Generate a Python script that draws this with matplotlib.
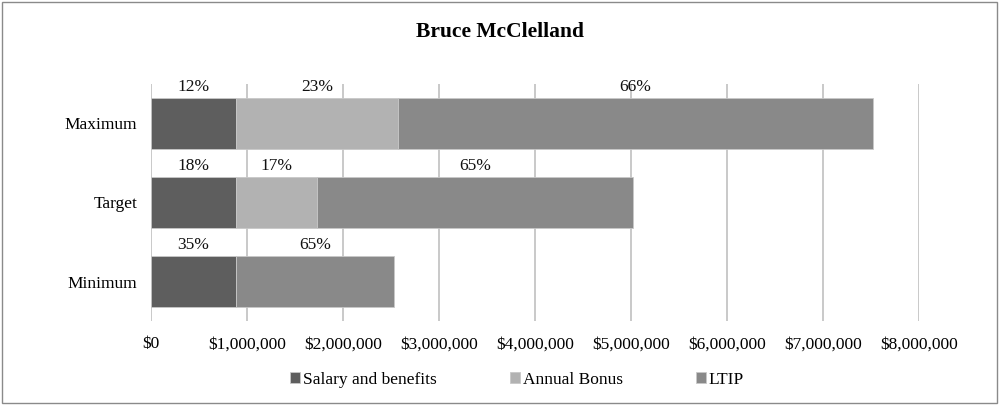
#!/usr/bin/env python3
"""Pay mix chart for Bruce McClelland."""

import matplotlib
import numpy as np

matplotlib.use("Agg")
from matplotlib import pyplot as plt  # noqa: E402
from matplotlib.patches import Rectangle  # noqa: E402

plt.rcParams["font.family"] = ["Liberation Serif", "DejaVu Serif"]

categories = ["Minimum", "Target", "Maximum"]
salary = [885000, 885000, 885000]
bonus = [0, 845000, 1690000]
ltip = [1650000, 3295000, 4945000]
pct_labels = [
    ["35%", "", "65%"],
    ["18%", "17%", "65%"],
    ["12%", "23%", "66%"],
]
series_names = ["Salary and benefits", "Annual Bonus", "LTIP"]
colors = ["#5e5e5e", "#b2b2b2", "#898989"]
x_ticks = np.arange(0, 8000001, 1000000)

fig = plt.figure(figsize=(10, 4.05), dpi=100)
ax = fig.add_axes([0.151, 0.2074, 0.768, 0.5852])

y = np.arange(len(categories))
height = 0.65
left = np.zeros(len(categories))
for values, name, color in zip([salary, bonus, ltip], series_names, colors):
    ax.barh(y, values, left=left, height=height, color=color, label=name,
            edgecolor="#c8c8c8", linewidth=0.6, zorder=3)
    left = left + np.asarray(values)

for i in range(len(categories)):
    start = 0
    for j, values in enumerate([salary, bonus, ltip]):
        v = values[i]
        if v > 0 and pct_labels[i][j]:
            ax.text(start + v / 2, y[i] + height / 2 + 0.03, pct_labels[i][j],
                    ha="center", va="bottom", fontsize=12.5, color="#111111")
        start += v

ax.set_xlim(0, 8000000)
ax.set_ylim(-0.5, len(categories) - 0.5)
ax.set_xticks(x_ticks)
ax.set_xticklabels([f"${v:,.0f}" for v in x_ticks], fontsize=12.5)
ax.set_yticks(y)
ax.set_yticklabels(categories, fontsize=12.5)
ax.tick_params(axis="x", length=0, pad=11)
ax.tick_params(axis="y", length=0, pad=10)
ax.grid(axis="x", color="#c0c0c0", linewidth=1.2, zorder=0)
for side in ["top", "right", "bottom", "left"]:
    ax.spines[side].set_visible(False)

fig.text(0.5, 0.92, "Bruce McClelland", ha="center", va="center",
         fontsize=15.5, fontweight="bold")

handles, labels = ax.get_legend_handles_labels()
fig.legend(handles, labels, loc="center", bbox_to_anchor=(0.517, 0.062), ncol=3,
           frameon=False, fontsize=12.5, handlelength=0.6, handleheight=0.6,
           handletextpad=0.15, columnspacing=4.2)

fig.patches.append(Rectangle((0.002, 0.004), 0.995, 0.992, transform=fig.transFigure,
                             fill=False, edgecolor="#8a8a8a", linewidth=1.0))

fig.savefig("out.png", dpi=100)
